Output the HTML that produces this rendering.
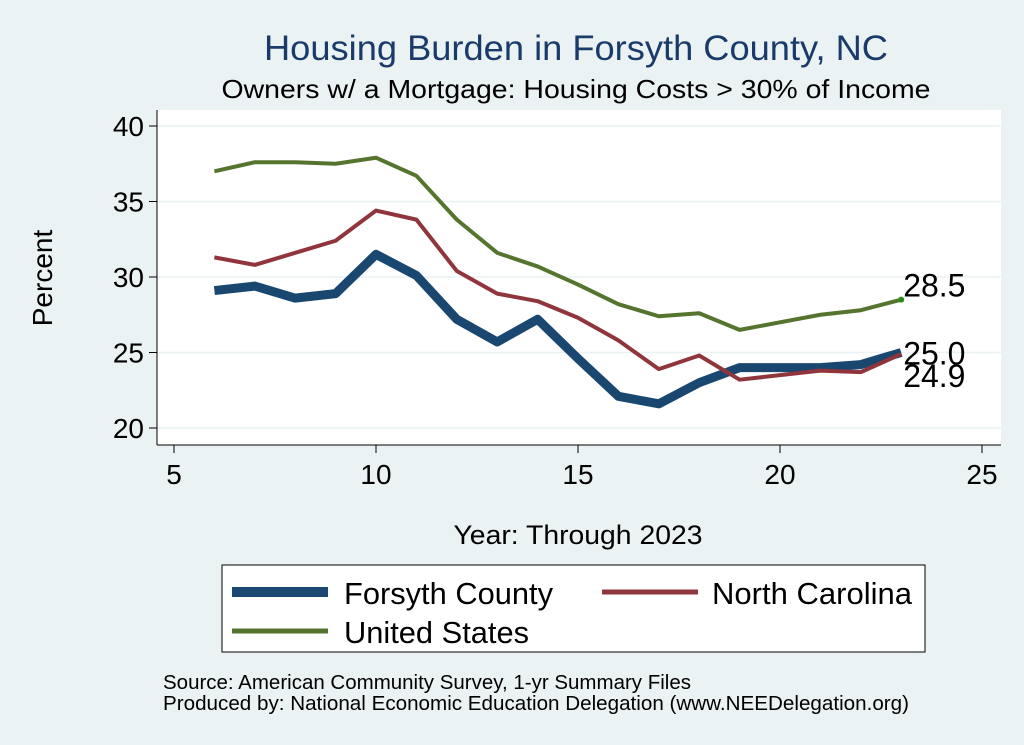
<!DOCTYPE html>
<html><head><meta charset="utf-8"><style>
body{margin:0;background:#eaf2f3;}
svg{display:block;font-family:"Liberation Sans",sans-serif;}
</style></head><body>
<svg id="chart" width="1024" height="745">
<rect width="1024" height="745" fill="#eaf2f3"/>
<text x="576" y="60" font-size="35" fill="#1a3a6a" text-anchor="middle" textLength="624" lengthAdjust="spacingAndGlyphs">Housing Burden in Forsyth County, NC</text>
<text x="576" y="98" font-size="26" fill="#000" text-anchor="middle" textLength="709" lengthAdjust="spacingAndGlyphs">Owners w/ a Mortgage: Housing Costs &gt; 30% of Income</text>
<rect x="157" y="110" width="844" height="335" fill="#fff"/>
<g id="grid"></g><g id="axes"></g><g id="series"></g>
<text x="52" y="278" font-size="28" text-anchor="middle" transform="rotate(-90 52 278)">Percent</text>
<text x="578" y="544" font-size="27" text-anchor="middle" textLength="249" lengthAdjust="spacingAndGlyphs">Year: Through 2023</text>
<g>
<rect x="222" y="565" width="703" height="87" fill="#fff" stroke="#000" stroke-width="1"/>
<line x1="232" y1="592" x2="328" y2="592" stroke="#1a476f" stroke-width="10"/>
<text x="344" y="604" font-size="31" textLength="209" lengthAdjust="spacingAndGlyphs">Forsyth County</text>
<line x1="602" y1="592" x2="698" y2="592" stroke="#90353b" stroke-width="5"/>
<text x="712" y="604" font-size="31" textLength="200" lengthAdjust="spacingAndGlyphs">North Carolina</text>
<line x1="232" y1="631" x2="328" y2="631" stroke="#55752f" stroke-width="5"/>
<text x="344" y="643" font-size="31" textLength="185" lengthAdjust="spacingAndGlyphs">United States</text>
</g>
<text x="163" y="689" font-size="20" textLength="528" lengthAdjust="spacingAndGlyphs">Source: American Community Survey, 1-yr Summary Files</text>
<text x="163" y="710" font-size="20" textLength="746" lengthAdjust="spacingAndGlyphs">Produced by: National Economic Education Delegation (www.NEEDelegation.org)</text>
</svg>
<script>
const years=[6,7,8,9,10,11,12,13,14,15,16,17,18,19,20,21,22,23];
const forsyth=[29.1,29.4,28.6,28.9,31.5,30.1,27.2,25.7,27.2,24.6,22.1,21.6,23.0,24.0,24.0,24.0,24.2,25.0];
const nc=[31.3,30.8,31.6,32.4,34.4,33.8,30.4,28.9,28.4,27.3,25.8,23.9,24.8,23.2,23.5,23.8,23.7,24.9];
const us=[37.0,37.6,37.6,37.5,37.9,36.7,33.8,31.6,30.7,29.5,28.2,27.4,27.6,26.5,27.0,27.5,27.8,28.5];
const xTicks=[5,10,15,20,25];
const yTicks=[20,25,30,35,40];
const NS="http://www.w3.org/2000/svg";
const xs=v=>174+(v-5)*40.4;
const ys=v=>428-(v-20)*15.1;
function mk(t,a,p){const e=document.createElementNS(NS,t);for(const k in a)e.setAttribute(k,a[k]);p.appendChild(e);return e;}
const grid=document.getElementById('grid'),axes=document.getElementById('axes'),ser=document.getElementById('series');
yTicks.forEach(v=>{
 const g=mk('line',{x1:157,x2:1001,y1:ys(v),y2:ys(v),stroke:'#eaf2f3','stroke-width':1.5},grid);
 
 
 const t=mk('line',{x1:149,x2:157,y1:ys(v),y2:ys(v),stroke:'#000'},axes);
 
 
 const l=mk('text',{x:144,y:ys(v)+10,'font-size':28,'text-anchor':'end'},axes);l.textContent=v;
 
 
});
xTicks.forEach(v=>{
 const t=mk('line',{x1:xs(v),x2:xs(v),y1:445,y2:453,stroke:'#000'},axes);
 
 
 const l=mk('text',{x:xs(v),y:484,'font-size':28,'text-anchor':'middle'},axes);l.textContent=v;
 
 
});
const ya=mk('line',{x1:157,x2:157,y1:110,y2:445,stroke:'#000'},axes);


const xa=mk('line',{x1:157,x2:1001,y1:445,y2:445,stroke:'#000'},axes);


function line(vals,col,w,name){
 const p=mk('polyline',{points:years.map((y,i)=>xs(y)+','+ys(vals[i])).join(' '),fill:'none',stroke:col,'stroke-width':w,'stroke-linejoin':'round'},ser);
 
 
}
line(us,'#55752f',4,'line-united-states');
line(forsyth,'#1a476f',9,'line-forsyth-county');
line(nc,'#90353b',4,'line-north-carolina');
const n=years.length-1;
const d=mk('circle',{cx:xs(years[n]),cy:ys(us[n]),r:3,fill:'#2a8a1a'},ser);


[[us[n],-3,'label-us-end'],[forsyth[n],12,'label-forsyth-end'],[nc[n],33,'label-nc-end']].forEach(([v,dy,nm])=>{
 const t=mk('text',{x:xs(years[n])+2,y:ys(v)+dy,'font-size':32},ser);t.textContent=v.toFixed(1);
 
 
});
</script>
</body></html>
